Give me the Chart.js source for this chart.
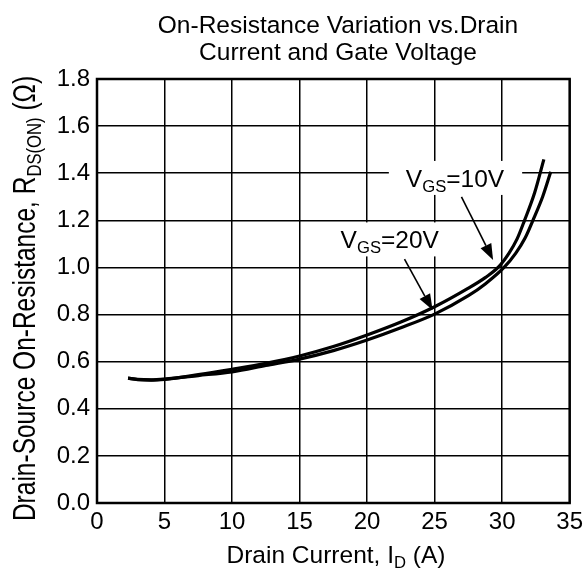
<!DOCTYPE html>
<html>
<head>
<meta charset="utf-8">
<script src="https://cdn.jsdelivr.net/npm/chart.js@4.4.1/dist/chart.umd.min.js"></script>
<style>
  html, body { margin: 0; padding: 0; background: #fff; }
  #chart { display: block; }
</style>
</head>
<body>
<canvas id="chart" width="588" height="570"></canvas>
<script>
const FONT = '"Liberation Sans", Arial, sans-serif';

// VGS = 10V curve (drain current in A, on-resistance in ohm)
const currentVgs10 = [2.3, 3, 4, 5, 7.5, 10, 12.5, 15, 17.5, 20, 22.5, 25, 27.5, 28.75, 29.7, 30.5, 31.1, 31.66, 32.4, 33.09];
const rdsVgs10 = [0.530, 0.524, 0.522, 0.525, 0.545, 0.568, 0.593, 0.624, 0.664, 0.713, 0.768, 0.833, 0.912, 0.957, 1.0, 1.06, 1.12, 1.2, 1.316, 1.459];

// VGS = 20V curve
const currentVgs20 = [2.3, 3, 4, 5, 7.5, 10, 12.5, 15, 17.5, 20, 22.5, 25, 27.5, 28.75, 30.14, 31, 31.7, 32.28, 33, 33.6];
const rdsVgs20 = [0.530, 0.525, 0.523, 0.526, 0.541, 0.557, 0.584, 0.611, 0.647, 0.692, 0.744, 0.802, 0.880, 0.930, 1.0, 1.06, 1.125, 1.2, 1.3, 1.406];

const xTicks = [0, 5, 10, 15, 20, 25, 30, 35];
const yTicks = [0.0, 0.2, 0.4, 0.6, 0.8, 1.0, 1.2, 1.4, 1.6, 1.8];

// callouts: text position and arrow from/to, in data units
const callouts = [
  { parts: [{ t: "V" }, { t: "GS", sub: true }, { t: "=10V" }], x: 26.51, y: 1.38, padL: 17, padR: 18,
    from: [26.99, 1.30], to: [29.33, 1.032] },
  { parts: [{ t: "V" }, { t: "GS", sub: true }, { t: "=20V" }], x: 21.68, y: 1.119, padL: 4, padR: 4,
    from: [22.77, 1.035], to: [24.85, 0.819] },
];

function toPoints(xs, ys) {
  return xs.map((x, i) => ({ x: x, y: ys[i] }));
}

function drawRich(ctx, parts, x, y, size, align) {
  const widths = parts.map((p) => {
    ctx.font = `${p.sub ? size * 0.68 : size}px ${FONT}`;
    return ctx.measureText(p.t).width;
  });
  const total = widths.reduce((a, b) => a + b, 0);
  let cx = align === "center" ? x - total / 2 : x;
  ctx.textAlign = "left";
  ctx.textBaseline = "alphabetic";
  parts.forEach((p, i) => {
    ctx.font = `${p.sub ? size * 0.68 : size}px ${FONT}`;
    ctx.fillText(p.t, cx, y + (p.sub ? size * 0.2 : 0));
    cx += widths[i];
  });
  return total;
}

function drawArrow(ctx, x1, y1, x2, y2) {
  const ang = Math.atan2(y2 - y1, x2 - x1);
  const len = 16, half = 6;
  const bx = x2 - Math.cos(ang) * len, by = y2 - Math.sin(ang) * len;
  ctx.beginPath();
  ctx.moveTo(x1, y1);
  ctx.lineTo(bx, by);
  ctx.lineWidth = 1.6;
  ctx.stroke();
  ctx.beginPath();
  ctx.moveTo(x2, y2);
  ctx.lineTo(bx + Math.sin(ang) * half, by - Math.cos(ang) * half);
  ctx.lineTo(bx - Math.sin(ang) * half, by + Math.cos(ang) * half);
  ctx.closePath();
  ctx.fill();
}

const decorations = {
  id: "decorations",
  afterDraw(chart) {
    const ctx = chart.ctx;
    const area = chart.chartArea;
    const xs = chart.scales.x, ys = chart.scales.y;
    ctx.save();
    ctx.fillStyle = "#000";
    ctx.strokeStyle = "#000";

    // frame
    ctx.lineWidth = 2.5;
    ctx.strokeRect(area.left, area.top, area.right - area.left, area.bottom - area.top);

    // callouts
    const size = 24.5;
    callouts.forEach((c) => {
      const px = xs.getPixelForValue(c.x);
      const py = ys.getPixelForValue(c.y);
      const base = py + size * 0.358;
      let w = 0;
      c.parts.forEach((p) => {
        ctx.font = `${p.sub ? size * 0.68 : size}px ${FONT}`;
        w += ctx.measureText(p.t).width;
      });
      ctx.fillStyle = "#fff";
      ctx.fillRect(px - w / 2 - c.padL, py - 17, w + c.padL + c.padR, 34);
      ctx.fillStyle = "#000";
      drawRich(ctx, c.parts, px, base, size, "center");
      drawArrow(ctx,
        xs.getPixelForValue(c.from[0]), ys.getPixelForValue(c.from[1]),
        xs.getPixelForValue(c.to[0]), ys.getPixelForValue(c.to[1]));
    });

    // title
    ctx.font = `24.5px ${FONT}`;
    ctx.textAlign = "center";
    ctx.textBaseline = "alphabetic";
    ctx.fillText("On-Resistance Variation vs.Drain", 338, 33);
    ctx.fillText("Current and Gate Voltage", 338, 60);

    // x axis title
    drawRich(ctx, [{ t: "Drain Current, I" }, { t: "D", sub: true }, { t: " (A)" }],
      336, 563, 24.5, "center");

    // y axis title (glyphs stretched across the line as in the source)
    ctx.save();
    ctx.translate(34.5, 298.5);
    ctx.rotate(-Math.PI / 2);
    ctx.scale(1, 1.25);
    drawRich(ctx, [{ t: "Drain-Source On-Resistance, R" }, { t: "DS(ON)", sub: true }, { t: " (\u03A9)" }],
      0, 0, 24.5, "center");
    ctx.restore();

    ctx.restore();
  },
};

const lineStyle = {
  showLine: true,
  borderColor: "#000",
  backgroundColor: "#000",
  borderWidth: 3.2,
  pointRadius: 0,
  cubicInterpolationMode: "monotone",
  fill: false,
};

new Chart(document.getElementById("chart"), {
  type: "scatter",
  data: {
    datasets: [
      { label: "VGS=10V", data: toPoints(currentVgs10, rdsVgs10), ...lineStyle },
      { label: "VGS=20V", data: toPoints(currentVgs20, rdsVgs20), ...lineStyle },
    ],
  },
  options: {
    responsive: false,
    animation: false,
    layout: { padding: { top: 79, right: 16, left: 0, bottom: 0 } },
    plugins: { legend: { display: false }, tooltip: { enabled: false }, title: { display: false } },
    scales: {
      x: {
        type: "linear",
        min: 0,
        max: 35,
        afterBuildTicks: (s) => { s.ticks = xTicks.map((v) => ({ value: v })); },
        afterFit: (s) => { s.height = 67; },
        ticks: { color: "#000", font: { family: FONT, size: 24 }, padding: 5, maxRotation: 0, callback: (v) => v },
        grid: { color: "#000", lineWidth: 1.5, drawTicks: false },
        border: { display: false },
      },
      y: {
        min: 0,
        max: 1.8,
        afterBuildTicks: (s) => { s.ticks = yTicks.map((v) => ({ value: v })); },
        afterFit: (s) => { s.width = 97; },
        ticks: { color: "#000", font: { family: FONT, size: 24 }, padding: 7, callback: (v) => v.toFixed(1) },
        grid: { color: "#000", lineWidth: 1.5, drawTicks: false },
        border: { display: false },
      },
    },
  },
  plugins: [decorations],
});
</script>
</body>
</html>
